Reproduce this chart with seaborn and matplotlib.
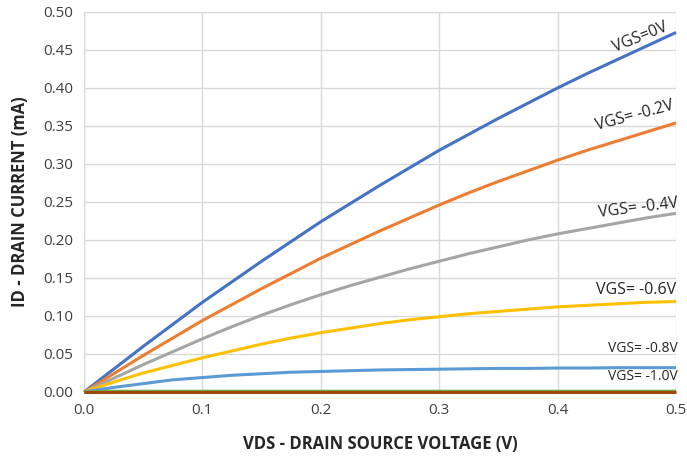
import numpy as np
import pandas as pd
import matplotlib
matplotlib.use("Agg")
import matplotlib.pyplot as plt
import seaborn as sns

vds = [0.0, 0.025, 0.05, 0.075, 0.1, 0.125, 0.15, 0.175, 0.2, 0.225, 0.25,
       0.275, 0.3, 0.325, 0.35, 0.375, 0.4, 0.425, 0.45, 0.475, 0.5]
id_0v = [0, 0.030, 0.060, 0.089, 0.118, 0.145, 0.172, 0.198, 0.224, 0.248, 0.272,
         0.295, 0.318, 0.339, 0.360, 0.380, 0.400, 0.419, 0.437, 0.455, 0.473]
id_m02 = [0, 0.024, 0.048, 0.071, 0.094, 0.115, 0.136, 0.156, 0.176, 0.194, 0.212,
          0.229, 0.246, 0.262, 0.277, 0.291, 0.305, 0.318, 0.330, 0.342, 0.354]
id_m04 = [0, 0.018, 0.036, 0.053, 0.070, 0.086, 0.101, 0.115, 0.128, 0.140, 0.151,
          0.162, 0.172, 0.182, 0.191, 0.200, 0.208, 0.215, 0.222, 0.229, 0.235]
id_m06 = [0, 0.013, 0.025, 0.035, 0.045, 0.054, 0.063, 0.071, 0.078, 0.084, 0.090,
          0.095, 0.099, 0.103, 0.106, 0.109, 0.112, 0.114, 0.116, 0.118, 0.119]
id_m08 = [0, 0.006, 0.011, 0.016, 0.019, 0.022, 0.024, 0.026, 0.027, 0.028, 0.029,
          0.0295, 0.030, 0.0305, 0.031, 0.031, 0.0315, 0.0315, 0.032, 0.032, 0.032]
id_m10 = [0] + [0.001] * 20
id_m12 = [0] * 21

series = {
    "VGS=0V": id_0v,
    "VGS= -0.2V": id_m02,
    "VGS= -0.4V": id_m04,
    "VGS= -0.6V": id_m06,
    "VGS= -0.8V": id_m08,
    "VGS= -1.0V": id_m10,
    "VGS= -1.2V": id_m12,
}
colors = ["#4472C4", "#ED7D31", "#A5A5A5", "#FFC000", "#5B9BD5", "#70AD47", "#9E480E"]

rows = []
for name, vals in series.items():
    for x, y in zip(vds, vals):
        rows.append({"VDS": x, "ID": y, "VGS": name})
df = pd.DataFrame(rows)

sns.set_style("white")
plt.rcParams["font.family"] = ["Open Sans", "DejaVu Sans"]

fig = plt.figure(figsize=(6.87, 4.59), dpi=100)
ax = fig.add_axes([0.1223, 0.146, 0.8617, 0.828])

sns.lineplot(data=df, x="VDS", y="ID", hue="VGS", palette=colors, linewidth=2.2,
             legend=False, ax=ax, zorder=3)
for line in ax.get_lines():
    line.set_clip_on(False)
    line.set_solid_capstyle("butt")

ax.set_xlim(0, 0.5)
ax.set_ylim(0, 0.5)
ax.set_xticks(np.arange(0, 0.51, 0.1))
ax.set_yticks(np.arange(0, 0.51, 0.05))
ax.set_xticklabels([f"{v:.1f}" for v in np.arange(0, 0.51, 0.1)])
ax.set_yticklabels([f"{v:.2f}" for v in np.arange(0, 0.51, 0.05)])
ax.tick_params(axis="both", length=0, labelsize=11, colors="#404040", pad=8)
ax.grid(True, color="#D9D9D9", linewidth=1)
for s in ["top", "right"]:
    ax.spines[s].set_visible(False)
ax.spines["left"].set_color("#D9D9D9")
ax.spines["bottom"].set_color("#D9D9D9")

ax.set_xlabel("VDS - DRAIN SOURCE VOLTAGE (V)", fontsize=12, fontweight="bold", labelpad=12)
ax.set_ylabel("ID - DRAIN CURRENT (mA)", fontsize=12, fontweight="bold", labelpad=10)

labels = [
    ("VGS=0V", 0.4696, 0.467, 22, 11.5),
    ("VGS= -0.2V", 0.465, 0.364, 15, 11.5),
    ("VGS= -0.4V", 0.468, 0.242, 7, 11.5),
    ("VGS= -0.6V", 0.466, 0.134, 0, 11.5),
    ("VGS= -0.8V", 0.472, 0.057, 0, 10),
    ("VGS= -1.0V", 0.472, 0.021, 0, 10),
]
for txt, x, y, rot, fs in labels:
    ax.text(x, y, txt, rotation=rot, fontsize=fs, ha="center", va="center",
            rotation_mode="anchor", clip_on=False, zorder=4)

fig.savefig("out.png", dpi=100)
